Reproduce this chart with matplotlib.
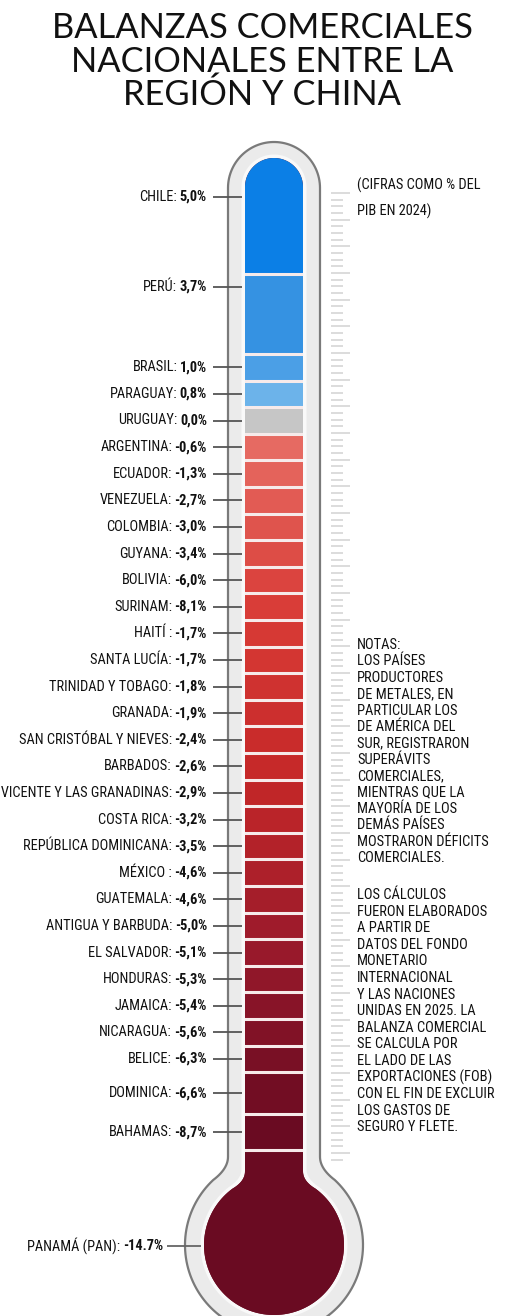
import numpy as np
import matplotlib
matplotlib.use('Agg')
import matplotlib.pyplot as plt
from matplotlib import font_manager as fm
from matplotlib.path import Path
from matplotlib.patches import PathPatch
from matplotlib.colors import LinearSegmentedColormap

# data: trade balance with China, % of GDP 2024
countries = ['CHILE', 'PERÚ', 'BRASIL', 'PARAGUAY', 'URUGUAY', 'ARGENTINA',
             'ECUADOR', 'VENEZUELA', 'COLOMBIA', 'GUYANA', 'BOLIVIA', 'SURINAM',
             'HAITÍ ', 'SANTA LUCÍA', 'TRINIDAD Y TOBAGO', 'GRANADA',
             'SAN CRISTÓBAL Y NIEVES', 'BARBADOS', 'SAN VICENTE Y LAS GRANADINAS',
             'COSTA RICA', 'REPÚBLICA DOMINICANA', 'MÉXICO ', 'GUATEMALA',
             'ANTIGUA Y BARBUDA', 'EL SALVADOR', 'HONDURAS', 'JAMAICA',
             'NICARAGUA', 'BELICE', 'DOMINICA', 'BAHAMAS', 'PANAMÁ (PAN)']
values = [5.0, 3.7, 1.0, 0.8, 0.0, -0.6, -1.3, -2.7, -3.0, -3.4, -6.0, -8.1,
          -1.7, -1.7, -1.8, -1.9, -2.4, -2.6, -2.9, -3.2, -3.5, -4.6, -4.6,
          -5.0, -5.1, -5.3, -5.4, -5.6, -6.3, -6.6, -8.7, -14.7]

title = ['BALANZAS COMERCIALES', 'NACIONALES ENTRE LA', 'REGIÓN Y CHINA']
subtitle = ['(CIFRAS COMO % DEL', 'PIB EN 2024)']
notes = ['NOTAS:', 'LOS PAÍSES', 'PRODUCTORES', 'DE METALES, EN',
         'PARTICULAR LOS', 'DE AMÉRICA DEL', 'SUR, REGISTRARON', 'SUPERÁVITS',
         'COMERCIALES,', 'MIENTRAS QUE LA', 'MAYORÍA DE LOS', 'DEMÁS PAÍSES',
         'MOSTRARON DÉFICITS', 'COMERCIALES.']
notes2 = ['LOS CÁLCULOS', 'FUERON ELABORADOS', 'A PARTIR DE', 'DATOS DEL FONDO',
          'MONETARIO', 'INTERNACIONAL', 'Y LAS NACIONES', 'UNIDAS EN 2025. LA',
          'BALANZA COMERCIAL', 'SE CALCULA POR', 'EL LADO DE LAS',
          'EXPORTACIONES (FOB)', 'CON EL FIN DE EXCLUIR', 'LOS GASTOS DE',
          'SEGURO Y FLETE.']

# layout (pixel units, y down)
W, H = 509, 1316
CX = 274
row = 26.6
seg_h = [116, 80] + [row] * 27 + [42, 36, 180]
seg_top = 158 + np.concatenate([[0], np.cumsum(seg_h)[:-1]])
label_y = seg_top + np.array(seg_h) / 2
label_y[0] = 197
label_y[1] = 287
label_y[-1] = 1246

blues = ['#0b7fe6', '#3592e2', '#4b9fe6', '#6cb3ea', '#c6c6c6']
red_cmap = LinearSegmentedColormap.from_list(
    'reds', ['#e66a62', '#d83b36', '#c42728', '#9a1a2b', '#6a0b22'])
n_red = len(values) - len(blues)
colors = blues + [red_cmap(t) for t in np.linspace(0, 1, n_red - 1)] + ['#6a0b22']


def pick_narrow():
    names = {f.name for f in fm.fontManager.ttflist}
    for n in ['Liberation Sans Narrow', 'Roboto Condensed', 'Open Sans Condensed',
              'DejaVu Sans Condensed', 'Noto Sans Condensed']:
        if n in names:
            return n, 'normal'
    for f in fm.fontManager.ttflist:
        if f.stretch in ('condensed', 'semi-condensed', 'extra-condensed'):
            return f.name, f.stretch
    for n in ['Roboto', 'Liberation Sans']:
        if n in names:
            return n, 'normal'
    return 'DejaVu Sans', 'normal'


NARROW, STRETCH = pick_narrow()


def thermo_path(w, top, R, cy, fillet=12, dphi=12):
    ac = top + w
    yj = cy - np.sqrt(R ** 2 - w ** 2)
    phi0 = np.arctan2(yj - cy, w)
    phi1 = phi0 + np.radians(dphi)
    pts = []
    for t in np.linspace(np.pi, 2 * np.pi, 60):
        pts.append((CX + w * np.cos(t), ac + w * np.sin(t)))
    p0 = np.array([CX + w, yj - fillet])
    c = np.array([CX + w, yj])
    p2 = np.array([CX + R * np.cos(phi1), cy + R * np.sin(phi1)])
    for s in np.linspace(0, 1, 15):
        pts.append(tuple((1 - s) ** 2 * p0 + 2 * (1 - s) * s * c + s ** 2 * p2))
    for t in np.linspace(phi1, np.pi - phi1, 120):
        pts.append((CX + R * np.cos(t), cy + R * np.sin(t)))
    p0 = np.array([CX - R * np.cos(phi1), cy + R * np.sin(phi1)])
    c = np.array([CX - w, yj])
    p2 = np.array([CX - w, yj - fillet])
    for s in np.linspace(0, 1, 15):
        pts.append(tuple((1 - s) ** 2 * p0 + 2 * (1 - s) * s * c + s ** 2 * p2))
    pts.append(pts[0])
    return Path(pts, closed=True)


fig = plt.figure(figsize=(W / 100, H / 100), dpi=100)
ax = fig.add_axes([0, 0, 1, 1])
ax.set_xlim(0, W)
ax.set_ylim(H, 0)
ax.axis('off')
renderer = fig.canvas.get_renderer()


def fit_size(text, target, base, cap, **kw):
    t = ax.text(0, 0, text, fontsize=base, **kw)
    w = t.get_window_extent(renderer).width
    t.remove()
    return min(cap, base * target / w)


# title
title_fs = fit_size(title[0], 421, 20, 26, family='Lato')
for j, line in enumerate(title):
    ax.text(262, 38 + j * 33.5, line, ha='center', va='baseline',
            fontsize=title_fs, family='Lato', color='#111111')

# glass
ax.add_patch(PathPatch(thermo_path(46, 142, 89, 1245), facecolor='#ebebeb',
                       edgecolor='#7a7a7a', lw=1.6, zorder=1))
ax.add_patch(PathPatch(thermo_path(32.5, 154.5, 73.5, 1245, fillet=10),
                       facecolor='#f9f9f9', edgecolor='none', zorder=2))
fluid = PathPatch(thermo_path(29, 158, 70, 1245, fillet=10),
                  facecolor=colors[-1], edgecolor='none', zorder=3)
ax.add_patch(fluid)

widths = [58] * (len(values) - 1) + [160]
bars = ax.bar([CX] * len(values), seg_h, bottom=seg_top, width=widths,
              color=colors, edgecolor='none', zorder=4)
for b in bars:
    b.set_clip_path(fluid)
seps = ax.hlines(seg_top[1:], CX - 30, CX + 30, color='#f6eaea', lw=2.2, zorder=5)
seps.set_clip_path(fluid)

# scale ticks on the right
tick_y = 193 + np.arange(146) * 26.67 / 4
ax.hlines(tick_y, 331, np.where(np.arange(146) % 4 == 0, 350, 343),
          color='#d9d9d9', lw=1.3, zorder=1)

# labels
lab_fs = fit_size('TRINIDAD Y TOBAGO:', 123, 10, 12.5, family=NARROW, stretch=STRETCH)
for i, (name, v) in enumerate(zip(countries, values)):
    y = label_y[i]
    last = i == len(values) - 1
    vtxt = f'{v:.1f}'.replace('.', '.' if last else ',') + '%'
    x_right = 163 if last else 207
    if last:
        ax.hlines(y, 167, 201, color='#666666', lw=1.3, zorder=6)
    else:
        ax.hlines(y, 213, 242, color='#555555', lw=1.3, zorder=6)
    t = ax.text(x_right, y, vtxt, ha='right', va='center', fontsize=lab_fs,
                family=NARROW, stretch=STRETCH, fontweight='bold', color='#111111')
    wv = t.get_window_extent(renderer).width
    ax.text(x_right - wv - 2.5, y, name + ':', ha='right', va='center',
            fontsize=lab_fs, family=NARROW, stretch=STRETCH, color='#111111')

for j, line in enumerate(subtitle):
    ax.text(357, 185 + j * 26, line, ha='left', va='center', fontsize=lab_fs,
            family=NARROW, stretch=STRETCH, color='#111111')

note_fs = fit_size('MOSTRARON DÉFICITS', 132, 9, 10.5, family=NARROW, stretch=STRETCH)
for j, line in enumerate(notes):
    ax.text(357, 645 + j * 16.4, line, ha='left', va='center', fontsize=note_fs,
            family=NARROW, stretch=STRETCH, color='#111111')
for j, line in enumerate(notes2):
    ax.text(357, 895 + j * 16.6, line, ha='left', va='center', fontsize=note_fs,
            family=NARROW, stretch=STRETCH, color='#111111')

fig.savefig('out.png', dpi=100, facecolor='white')
